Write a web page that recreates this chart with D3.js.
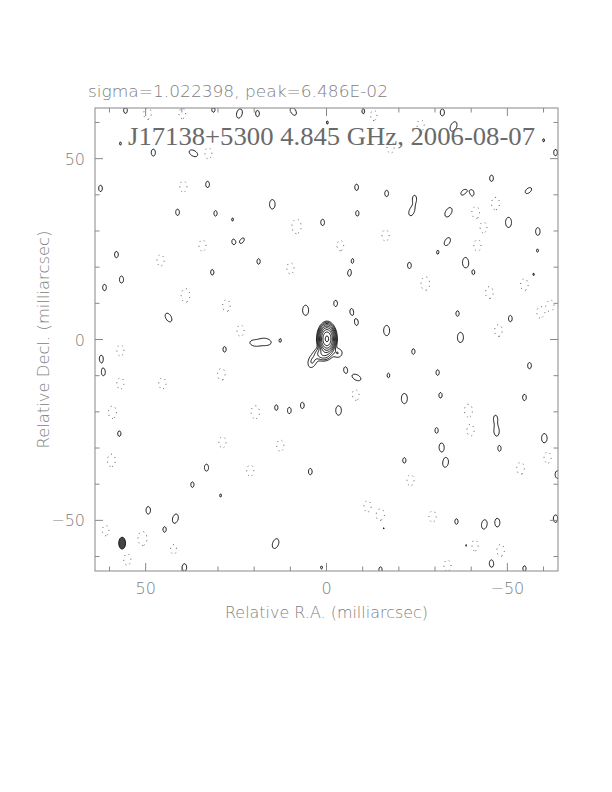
<!DOCTYPE html>
<html><head><meta charset="utf-8">
<script src="https://cdn.jsdelivr.net/npm/d3@7"></script>
<style>body{margin:0;background:#fff}</style>
</head><body>
<svg id="chart" width="612" height="792"></svg>
<script>
// ---------- data ----------
const headerText = "sigma=1.022398, peak=6.486E-02";
const titleText = "J17138+5300 4.845 GHz, 2006-08-07";
const xLabelText = "Relative R.A. (milliarcsec)";
const yLabelText = "Relative Decl. (milliarcsec)";
const mapExtent = [64, -64];            // mas, left/top -> right/bottom
const majorTicks = [50, 0, -50];
const minorTicks = [60, 40, 30, 20, 10, -10, -20, -30, -40, -60];
const posLevels = [1, 2, 4, 8, 16, 32, 64, 128, 256];   // in units of lowest contour
const negLevels = [1];                                  // drawn as -1
// source components: [ra, dec, amp, sigmaMinor, sigmaMajor, pa]
const sourceComps = [
  [0.0, 0.3, 300, 0.85, 1.45, 0],
  [1.0, -3.8, 8, 1.2, 1.0, 0],
  [4.0, -5.8, 2.2, 1.5, 0.9, 70],
  [-3.0, -3.6, 2.0, 1.0, 1.0, 0]
];
// positive noise peaks: [ra, dec, amp, pa]
const posPeaks = [
  [55.7,63.5,1.2,0],[31.4,63.7,1.15,0],[24.2,62.6,1.5,-15],[19.2,62.6,1.2,0],[9.3,63.2,1.4,30],
  [-0.1,60.1,1.05,0],[-10.1,63.2,1.15,0],[-31.9,62.9,1.25,0],[-35.0,59.0,1.6,-25],[-59.9,55.2,1.05,0],
  [-63.2,51.8,1.2,0],[57.1,54.3,1.05,0],[48.0,51.8,1.25,0],[36.9,51.6,1.5,60],[62.6,41.9,1.2,0],
  [33.0,43.0,1.2,0],[41.3,35.3,1.2,0],[30.8,35.0,1.15,0],[26.1,33.3,1.05,0],[23.4,27.5,1.15,-30],
  [25.9,27.2,1.1,0],[15.1,37.5,1.5,0],[1.2,32.5,1.2,0],[-8.2,42.2,1.2,0],[-8.4,35.0,1.15,0],
  [-16.5,40.5,1.2,0],[-23.4,35.5,1.4,-20],[-24.2,39.1,1.2,0],[-33.6,35.3,1.6,-30],[-37.7,40.8,1.2,-40],
  [-40.2,40.5,1.15,0],[-45.5,44.7,1.2,0],[-50.2,32.5,1.6,0],[-55.7,41.3,1.3,-50],[-58.3,30.0,1.3,0],
  [-33.3,27.2,1.4,-30],[-30.6,24.2,1.05,0],[-38.3,21.4,1.6,0],[-40.5,18.7,1.1,0],[-58.2,24.7,1.05,0],
  [-57.1,18.1,1.05,0],[-36.1,7.3,1.15,0],[-50.7,5.9,1.2,0],[58.2,23.6,1.2,0],[61.5,14.5,1.2,0],
  [56.8,16.7,1.25,0],[31.7,18.7,1.15,0],[18.9,21.7,1.15,0],[-6.2,18.4,1.15,0],[-7.1,22.0,1.05,0],
  [-22.8,20.6,1.2,0],[43.8,6.2,1.5,30],[17.0,-0.5,1.8,80],[20.0,-0.9,1.5,80],[5.9,8.2,1.6,0],
  [-2.4,10.1,1.2,0],[-6.8,7.9,1.15,0],[-8.2,4.8,1.15,0],[-16.5,2.6,1.6,0],[28.3,-2.6,1.15,0],
  [62.4,-5.1,1.2,0],[61.8,-9.0,1.2,0],[12.9,-0.1,1.05,0],[-5.1,-8.2,1.15,0],[-8.2,-10.4,1.5,60],
  [-17.0,-9.8,1.1,0],[-36.9,0.7,1.6,0],[-56.0,-7.1,1.2,0],[14.0,-18.7,1.15,0],[10.4,-19.5,1.2,0],
  [6.8,-18.1,1.2,0],[-3.2,-19.5,1.5,0],[-6.2,-18.1,1.05,0],[-21.4,-16.2,1.6,0],[-31.4,-15.3,1.15,0],
  [-46.6,-21.7,1.2,0],[-54.6,-15.9,1.2,0],[57.4,-25.9,1.15,0],[33.3,-35.3,1.25,0],[4.6,-36.4,1.2,0],
  [-21.4,-33.3,1.15,0],[-30.3,-25.0,1.15,0],[-31.7,-29.7,1.4,0],[-32.8,-33.9,1.5,-10],[-46.9,-25.3,1.4,0],
  [-47.7,-30.0,1.15,0],[-60.1,-27.2,1.5,0],[-63.7,-37.2,1.3,0],[37.2,-40.0,1.15,0],[29.4,-43.0,1.05,0],
  [49.4,-47.1,1.3,0],[41.9,-49.4,1.5,-15],[44.9,-52.4,1.15,0],[39.4,-62.9,1.3,0],[14.2,-56.3,1.6,-20],
  [-15.6,-51.8,1.15,0],[-35.8,-50.2,1.15,0],[-38.6,-56.8,1.15,0],[-43.5,-51.0,1.5,-10],[-47.1,-50.5,1.4,0],
  [-63.2,-49.4,1.3,0],[1.5,-62.9,1.05,0],[-14.8,-63.5,1.15,0],[-45.5,-61.8,1.3,0],[-54.6,-63.2,1.15,0],
  [-23.9,-3.2,1.15,0],[-30.6,-9.0,1.15,0]
];
// negative noise troughs: [ra, dec, depth]
const negPeaks = [
  [49.6,62.6,1.7],[40.0,62.6,1.5],[-12.9,62.1,1.5],[32.8,51.6,1.6],[39.7,42.4,1.6],
  [8.4,31.4,2.2],[-41.1,35.3,1.7],[-46.6,37.7,1.8],[-41.6,26.1,1.6],[-43.3,31.1,1.5],
  [-27.2,15.6,2.0],[-61.8,9.5,1.6],[-59.0,7.6,1.6],[39.1,12.3,2.0],[34.4,26.1,1.6],
  [27.8,9.5,1.7],[10.1,19.8,1.6],[-44.9,13.1,1.7],[-54.6,15.3,1.7],[57.1,-2.9,1.6],
  [-47.4,2.6,1.7],[57.1,-12.0,1.6],[45.5,-12.0,1.6],[29.2,-9.5,1.7],[59.3,-20.0,1.8],
  [19.8,-20.0,1.9],[-7.9,-15.3,1.6],[-39.1,-19.5,1.8],[59.6,-33.3,1.8],[28.9,-28.3,1.6],
  [12.9,-29.2,1.6],[-39.7,-25.0,1.6],[-53.5,-35.5,1.7],[-61.0,-32.5,1.6],[61.2,-52.7,1.5],
  [51.0,-54.9,2.1],[55.2,-60.7,1.6],[-11.2,-46.0,1.6],[-14.8,-48.5,1.9],[-29.2,-48.8,1.6],
  [-40.8,-56.8,1.6],[-48.0,-58.2,1.7],[-33.3,-62.4,1.6],[42.4,-57.9,1.4],[-17.6,53.2,1.6],
  [-25.9,59.3,1.6],[-16.2,28.9,1.6],[21.2,-36.1,1.6],[-3.7,26.1,1.5],[23.9,2.6,1.6],
  [46.0,22.0,1.6],[-23.1,-38.8,1.6]
];
const noiseBeam = [0.85, 1.45];          // sigma minor/major of noise peaks (mas)
const beam = {ra: 56.5, dec: -56.3, maj: 3.3, min: 1.9, pa: 0};

// ---------- layout ----------
const frame = {x0: 95, x1: 558, y0: 108, y1: 571};
const x = d3.scaleLinear().domain(mapExtent).range([frame.x0, frame.x1]);
const y = d3.scaleLinear().domain(mapExtent).range([frame.y0, frame.y1]);

// ---------- grid ----------
const cell = 0.25;
const n = Math.round((mapExtent[0] - mapExtent[1]) / cell) + 1;
const grid = new Float64Array(n * n);
function addGauss(ra0, dec0, amp, sMin, sMaj, pa) {
  const t = pa * Math.PI / 180, c = Math.cos(t), s = Math.sin(t);
  const w = 5 * Math.max(sMin, sMaj);
  const i0 = Math.max(0, Math.floor((mapExtent[0] - (ra0 + w)) / cell));
  const i1 = Math.min(n - 1, Math.ceil((mapExtent[0] - (ra0 - w)) / cell));
  const j0 = Math.max(0, Math.floor((mapExtent[0] - (dec0 + w)) / cell));
  const j1 = Math.min(n - 1, Math.ceil((mapExtent[0] - (dec0 - w)) / cell));
  for (let j = j0; j <= j1; j++) {
    const dd = (mapExtent[0] - j * cell) - dec0;
    for (let i = i0; i <= i1; i++) {
      const dr = (mapExtent[0] - i * cell) - ra0;
      const u = dd * c + dr * s, v = -dd * s + dr * c;
      grid[j * n + i] += amp * Math.exp(-(u * u / (2 * sMaj * sMaj) + v * v / (2 * sMin * sMin)));
    }
  }
}
sourceComps.forEach(d => addGauss(d[0], d[1], d[2], d[3], d[4], d[5]));
posPeaks.forEach(d => addGauss(d[0], d[1], d[2], noiseBeam[0], noiseBeam[1], d[3]));
negPeaks.forEach(d => addGauss(d[0], d[1], -d[2], noiseBeam[0] * 1.2, noiseBeam[1] * 1.1, 0));

const negGrid = grid.map(v => -v);
const contours = d3.contours().size([n, n]);
const proj = d3.geoTransform({
  point(px, py) { this.stream.point(x(mapExtent[0] - px * cell), y(mapExtent[0] - py * cell)); }
});
const path = d3.geoPath(proj);

const svg = d3.select("#chart");
svg.append("defs").append("clipPath").attr("id", "clip")
  .append("rect").attr("x", frame.x0).attr("y", frame.y0)
  .attr("width", frame.x1 - frame.x0).attr("height", frame.y1 - frame.y0);

const plot = svg.append("g").attr("clip-path", "url(#clip)");
plot.append("g").selectAll("path")
  .data(contours.thresholds(negLevels)(negGrid))
  .join("path").attr("d", path)
  .attr("fill", "none").attr("stroke", "#555").attr("stroke-width", 1)
  .attr("stroke-dasharray", "1 4");
plot.append("g").selectAll("path")
  .data(contours.thresholds(posLevels)(grid))
  .join("path").attr("d", path)
  .attr("fill", "none").attr("stroke", "#000").attr("stroke-width", 0.9);

// beam
const bx = Math.abs(x(0) - x(beam.min / 2)), by = Math.abs(y(0) - y(beam.maj / 2));
svg.append("ellipse").attr("cx", x(beam.ra)).attr("cy", y(beam.dec))
  .attr("rx", bx).attr("ry", by)
  .attr("transform", `rotate(${-beam.pa},${x(beam.ra)},${y(beam.dec)})`)
  .attr("fill", "#444").attr("stroke", "#000").attr("stroke-width", 0.8);

// frame and ticks
const axCol = "#888";
svg.append("rect").attr("x", frame.x0).attr("y", frame.y0)
  .attr("width", frame.x1 - frame.x0).attr("height", frame.y1 - frame.y0)
  .attr("fill", "none").attr("stroke", axCol).attr("stroke-width", 1);
const tickG = svg.append("g").attr("stroke", axCol).attr("stroke-width", 1);
const tickList = majorTicks.map(v => [v, 8]).concat(minorTicks.map(v => [v, 4.5]));
tickList.forEach(([v, L]) => {
  const xx = x(v), yy = y(v);
  tickG.append("line").attr("x1", xx).attr("x2", xx).attr("y1", frame.y1).attr("y2", frame.y1 - L);
  tickG.append("line").attr("x1", xx).attr("x2", xx).attr("y1", frame.y0).attr("y2", frame.y0 + L);
  tickG.append("line").attr("y1", yy).attr("y2", yy).attr("x1", frame.x0).attr("x2", frame.x0 + L);
  tickG.append("line").attr("y1", yy).attr("y2", yy).attr("x1", frame.x1).attr("x2", frame.x1 - L);
});
const fmt = d3.format("d");
const labFont = "'DejaVu Sans', sans-serif";
const txtCol = "#808080";
svg.append("g").selectAll("text").data(majorTicks).join("text")
  .attr("x", d => x(d)).attr("y", 594).attr("text-anchor", "middle")
  .attr("font-family", labFont).attr("font-size", 16).attr("font-weight", 200).attr("fill", txtCol)
  .text(d => fmt(d));
svg.append("g").selectAll("text").data(majorTicks).join("text")
  .attr("x", 85).attr("y", d => y(d) + 6).attr("text-anchor", "end")
  .attr("font-family", labFont).attr("font-size", 16).attr("font-weight", 200).attr("fill", txtCol)
  .text(d => fmt(d));
svg.append("text").attr("x", 326.5).attr("y", 618).attr("text-anchor", "middle")
  .attr("font-family", labFont).attr("font-size", 16).attr("font-weight", 200).attr("fill", txtCol)
  .attr("textLength", 203).attr("lengthAdjust", "spacingAndGlyphs").text(xLabelText);
svg.append("text").attr("transform", "translate(49,339.5) rotate(-90)").attr("text-anchor", "middle")
  .attr("font-family", labFont).attr("font-size", 16).attr("font-weight", 200).attr("fill", txtCol)
  .attr("textLength", 218).attr("lengthAdjust", "spacingAndGlyphs").text(yLabelText);
svg.append("text").attr("x", 88).attr("y", 97)
  .attr("font-family", labFont).attr("font-size", 16).attr("font-weight", 200).attr("fill", txtCol)
  .attr("textLength", 300).attr("lengthAdjust", "spacingAndGlyphs").text(headerText);
svg.append("text").attr("x", 128).attr("y", 145)
  .attr("font-family", "'Liberation Serif', 'DejaVu Serif', serif").attr("font-size", 25)
  .attr("fill", "#6a6a6a")
  .attr("textLength", 407).attr("lengthAdjust", "spacingAndGlyphs").text(titleText);
</script>
</body></html>
